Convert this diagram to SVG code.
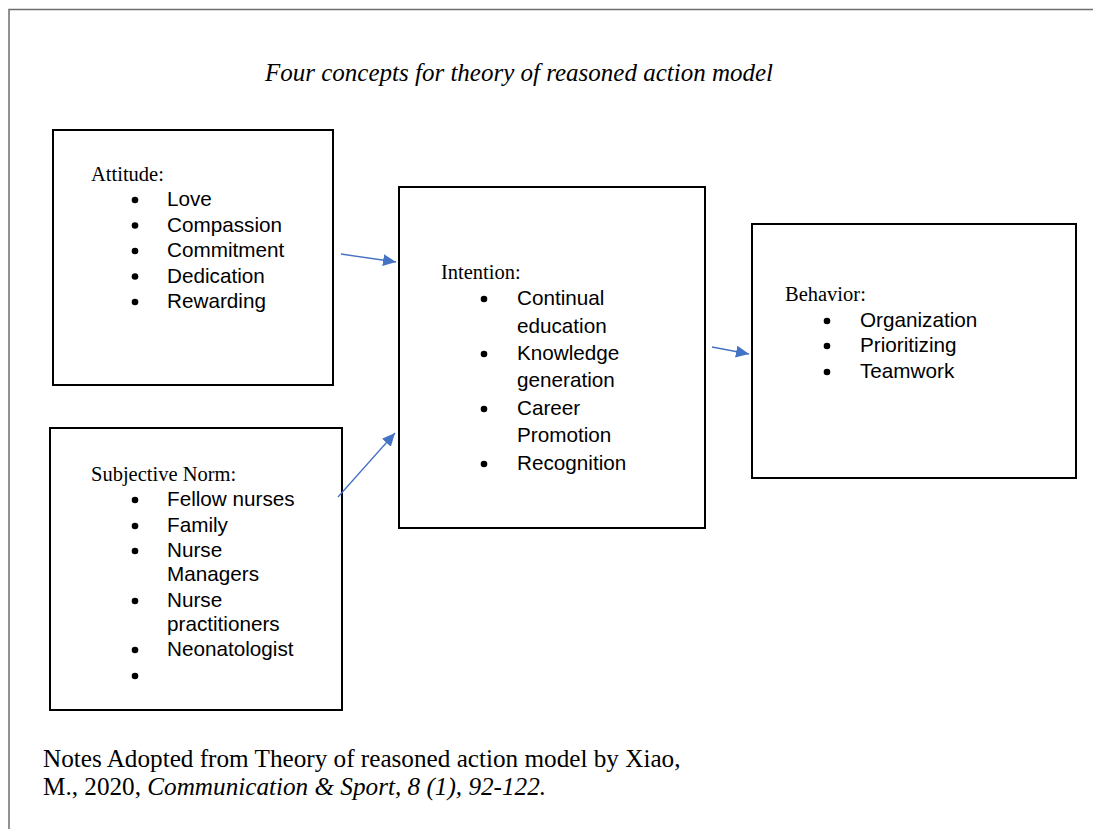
<svg xmlns="http://www.w3.org/2000/svg" width="1093" height="829" viewBox="0 0 1093 829">
  <style>
    .box { fill: #ffffff; stroke: #000000; stroke-width: 2; }
    .lbl { font-family: "Liberation Serif", "Times New Roman", serif; font-size: 20.5px; fill: #000; }
    .item { font-family: "Liberation Sans", Arial, sans-serif; font-size: 20.7px; fill: #000; }
    .dot { fill: #000; }
    .conn { stroke: #4472C4; stroke-width: 1.3; fill: none; marker-end: url(#arr); }
    .title { font-family: "Liberation Serif", "Times New Roman", serif; font-size: 25px; font-style: italic; fill: #000; }
    .note { font-family: "Liberation Serif", "Times New Roman", serif; font-size: 25.2px; fill: #000; }
    .it { font-family: "Liberation Serif", "Times New Roman", serif; font-style: italic; }
  </style>
  <defs>
    <marker id="arr" markerUnits="userSpaceOnUse" markerWidth="14" markerHeight="12" refX="13" refY="6" orient="auto">
      <path d="M0,0 L13,6 L0,12 Z" fill="#4472C4"/>
    </marker>
  </defs>
  <rect x="0" y="0" width="1093" height="829" fill="#ffffff"/>
  <path d="M9,829 L9,9.5 L1093,9.5" fill="none" stroke="#6e6e6e" stroke-width="1.5"/>

  <text class="title" x="265" y="81">Four concepts for theory of reasoned action model</text>

  <g id="attitude">
    <rect class="box" x="53" y="130" width="280" height="255"/>
    <text class="lbl" x="91" y="181">Attitude:</text>
    <circle class="dot" cx="135" cy="200" r="3.3"/>
    <circle class="dot" cx="135" cy="225.5" r="3.3"/>
    <circle class="dot" cx="135" cy="251" r="3.3"/>
    <circle class="dot" cx="135" cy="276.5" r="3.3"/>
    <circle class="dot" cx="135" cy="302" r="3.3"/>
    <text class="item" x="167" y="206">Love</text>
    <text class="item" x="167" y="231.5">Compassion</text>
    <text class="item" x="167" y="257">Commitment</text>
    <text class="item" x="167" y="282.5">Dedication</text>
    <text class="item" x="167" y="308">Rewarding</text>
  </g>

  <g id="subjective-norm">
    <rect class="box" x="50" y="428" width="292" height="282"/>
    <text class="lbl" x="91" y="481">Subjective Norm:</text>
    <circle class="dot" cx="135" cy="500" r="3.3"/>
    <circle class="dot" cx="135" cy="526" r="3.3"/>
    <circle class="dot" cx="135" cy="551" r="3.3"/>
    <circle class="dot" cx="135" cy="601" r="3.3"/>
    <circle class="dot" cx="135" cy="650" r="3.3"/>
    <circle class="dot" cx="135" cy="676" r="3.3"/>
    <text class="item" x="167" y="506">Fellow nurses</text>
    <text class="item" x="167" y="532">Family</text>
    <text class="item" x="167" y="557">Nurse</text>
    <text class="item" x="167" y="581">Managers</text>
    <text class="item" x="167" y="607">Nurse</text>
    <text class="item" x="167" y="631">practitioners</text>
    <text class="item" x="167" y="656">Neonatologist</text>
  </g>

  <g id="intention">
    <rect class="box" x="399" y="187" width="306" height="341"/>
    <text class="lbl" x="441" y="279">Intention:</text>
    <circle class="dot" cx="484" cy="299" r="3.3"/>
    <circle class="dot" cx="484" cy="354" r="3.3"/>
    <circle class="dot" cx="484" cy="409" r="3.3"/>
    <circle class="dot" cx="484" cy="464" r="3.3"/>
    <text class="item" x="517" y="305">Continual</text>
    <text class="item" x="517" y="333">education</text>
    <text class="item" x="517" y="360">Knowledge</text>
    <text class="item" x="517" y="387">generation</text>
    <text class="item" x="517" y="415">Career</text>
    <text class="item" x="517" y="442">Promotion</text>
    <text class="item" x="517" y="470">Recognition</text>
  </g>

  <g id="behavior">
    <rect class="box" x="752" y="224" width="324" height="254"/>
    <text class="lbl" x="785" y="301">Behavior:</text>
    <circle class="dot" cx="827" cy="321" r="3.3"/>
    <circle class="dot" cx="827" cy="346" r="3.3"/>
    <circle class="dot" cx="827" cy="372" r="3.3"/>
    <text class="item" x="860" y="327">Organization</text>
    <text class="item" x="860" y="352">Prioritizing</text>
    <text class="item" x="860" y="378">Teamwork</text>
  </g>

  <g id="connectors">
    <line class="conn" x1="341" y1="254" x2="396" y2="262"/>
    <line class="conn" x1="338" y1="497" x2="395" y2="433"/>
    <line class="conn" x1="712" y1="347" x2="749" y2="354"/>
  </g>

  <g id="notes">
    <text class="note" x="43" y="767">Notes Adopted from Theory of reasoned action model by Xiao,</text>
    <text class="note" x="43" y="795">M., 2020, <tspan class="it">Communication &amp; Sport, 8 (1), 92-122.</tspan></text>
  </g>
</svg>
